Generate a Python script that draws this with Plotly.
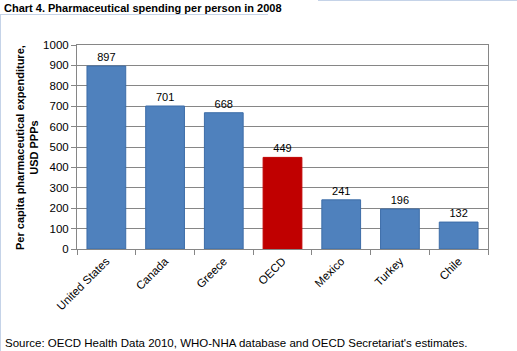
import plotly.graph_objects as go

countries = ["United States", "Canada", "Greece", "OECD", "Mexico", "Turkey", "Chile"]
spending = [897, 701, 668, 449, 241, 196, 132]
colors = ["#4F81BD", "#4F81BD", "#4F81BD", "#C00000", "#4F81BD", "#4F81BD", "#4F81BD"]
line_colors = ["#3D6DA8", "#3D6DA8", "#3D6DA8", "#C00000", "#3D6DA8", "#3D6DA8", "#3D6DA8"]
y_ticks = list(range(0, 1001, 100))

FONT = "Liberation Sans, Arial, sans-serif"

W, H = 517, 351
ML, MR, MT, MB = 77, 29, 45, 102

fig = go.Figure(go.Bar(
    x=countries, y=spending,
    marker=dict(color=colors, line=dict(color=line_colors, width=1)),
    text=[str(v) for v in spending], textposition="outside",
    textfont=dict(family=FONT, size=11, color="black"),
    cliponaxis=False, width=0.66,
))

fig.update_layout(
    width=W, height=H,
    margin=dict(l=ML, r=MR, t=MT, b=MB),
    paper_bgcolor="white", plot_bgcolor="white",
    showlegend=False,
    font=dict(family=FONT, size=11, color="black"),
    xaxis=dict(
        tickangle=-45, tickson="boundaries", ticks="outside", ticklen=5,
        tickcolor="#868686", showline=True, linecolor="#868686", mirror=True,
        linewidth=1, tickfont=dict(family=FONT, size=11.5, color="black"),
        showgrid=False,
    ),
    yaxis=dict(
        range=[0, 1000], tickvals=y_ticks, ticks="outside", ticklen=5,
        tickcolor="#868686", showline=True, linecolor="#868686", mirror=True,
        showgrid=True, gridcolor="#868686", gridwidth=1, zeroline=False,
        tickfont=dict(family=FONT, size=11.5, color="black"),
    ),
)

pw = W - ML - MR
ph = H - MT - MB
def px(x):
    return (x - ML) / pw
def py(y):
    return (H - MB - y) / ph

fig.add_annotation(text="<b>Per capita pharmaceutical expenditure,<br>USD PPPs</b>",
                   x=px(27), y=py(148), xref="paper", yref="paper", showarrow=False,
                   textangle=-90, xanchor="center", yanchor="middle",
                   font=dict(family=FONT, size=11, color="black"))
fig.add_annotation(text="<b>Chart 4. Pharmaceutical spending per person in 2008</b>",
                   x=px(2), y=py(8), xref="paper", yref="paper", showarrow=False,
                   xanchor="left", yanchor="middle",
                   font=dict(family=FONT, size=11, color="black"))
fig.add_annotation(text="Source: OECD Health Data 2010, WHO-NHA database and OECD Secretariat's estimates.",
                   x=px(3), y=py(343), xref="paper", yref="paper", showarrow=False,
                   xanchor="left", yanchor="middle",
                   font=dict(family=FONT, size=11.5, color="black"))

border = "#C5D3E8"
fig.add_shape(type="line", xref="paper", yref="paper", x0=px(0.5), x1=px(0.5), y0=py(14), y1=py(351),
              line=dict(color=border, width=1))
fig.add_shape(type="line", xref="paper", yref="paper", x0=px(0), x1=px(268), y0=py(14.5), y1=py(14.5),
              line=dict(color=border, width=1))
fig.add_shape(type="line", xref="paper", yref="paper", x0=px(318), x1=px(517), y0=py(0.5), y1=py(0.5),
              line=dict(color=border, width=1))

fig.write_html("out.html")
